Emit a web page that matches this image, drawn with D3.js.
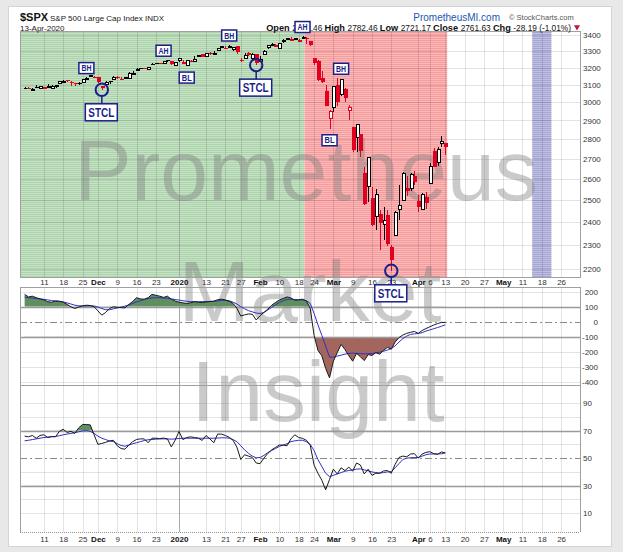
<!DOCTYPE html>
<html>
<head>
<meta charset="utf-8">
<script src="https://cdn.jsdelivr.net/npm/d3@7"></script>
<style>
  body { margin: 0; background: #e8e8e8; }
  svg text { font-family: "Liberation Sans", Arial, sans-serif; }
</style>
</head>
<body>
<svg id="chart" width="623" height="552"></svg>
<script>
// S&P 500 daily bars
var dates = [
  '2019-11-04', '2019-11-05', '2019-11-06', '2019-11-07', '2019-11-08',
  '2019-11-11', '2019-11-12', '2019-11-13', '2019-11-14', '2019-11-15',
  '2019-11-18', '2019-11-19', '2019-11-20', '2019-11-21', '2019-11-22',
  '2019-11-25', '2019-11-26', '2019-11-27', '2019-11-29',
  '2019-12-02', '2019-12-03', '2019-12-04', '2019-12-05', '2019-12-06',
  '2019-12-09', '2019-12-10', '2019-12-11', '2019-12-12', '2019-12-13',
  '2019-12-16', '2019-12-17', '2019-12-18', '2019-12-19', '2019-12-20',
  '2019-12-23', '2019-12-24', '2019-12-26', '2019-12-27',
  '2019-12-30', '2019-12-31', '2020-01-02', '2020-01-03',
  '2020-01-06', '2020-01-07', '2020-01-08', '2020-01-09', '2020-01-10',
  '2020-01-13', '2020-01-14', '2020-01-15', '2020-01-16', '2020-01-17',
  '2020-01-21', '2020-01-22', '2020-01-23', '2020-01-24',
  '2020-01-27', '2020-01-28', '2020-01-29', '2020-01-30', '2020-01-31',
  '2020-02-03', '2020-02-04', '2020-02-05', '2020-02-06', '2020-02-07',
  '2020-02-10', '2020-02-11', '2020-02-12', '2020-02-13', '2020-02-14',
  '2020-02-18', '2020-02-19', '2020-02-20', '2020-02-21',
  '2020-02-24', '2020-02-25', '2020-02-26', '2020-02-27', '2020-02-28',
  '2020-03-02', '2020-03-03', '2020-03-04', '2020-03-05', '2020-03-06',
  '2020-03-09', '2020-03-10', '2020-03-11', '2020-03-12', '2020-03-13',
  '2020-03-16', '2020-03-17', '2020-03-18', '2020-03-19', '2020-03-20',
  '2020-03-23', '2020-03-24', '2020-03-25', '2020-03-26', '2020-03-27',
  '2020-03-30', '2020-03-31', '2020-04-01', '2020-04-02', '2020-04-03',
  '2020-04-06', '2020-04-07', '2020-04-08', '2020-04-09',
  '2020-04-13'
]
var open = [
  3078.96, 3080.80, 3075.10, 3087.02, 3081.25,
  3080.33, 3089.28, 3084.18, 3090.75, 3107.92,
  3117.91, 3127.45, 3114.66, 3108.49, 3111.41,
  3117.44, 3134.85, 3145.49, 3147.18,
  3143.85, 3087.41, 3103.50, 3119.21, 3134.62,
  3141.86, 3135.36, 3135.75, 3141.23, 3166.65,
  3183.63, 3195.40, 3195.21, 3192.32, 3223.33,
  3226.05, 3225.45, 3227.20, 3247.23,
  3240.09, 3215.18, 3244.67, 3226.36,
  3217.55, 3241.86, 3238.59, 3266.03, 3281.81,
  3271.13, 3285.35, 3282.27, 3302.97, 3323.66,
  3321.03, 3330.02, 3315.77, 3333.10,
  3247.16, 3255.35, 3289.46, 3256.45, 3282.33,
  3235.66, 3280.61, 3324.91, 3344.92, 3335.54,
  3318.28, 3365.87, 3370.50, 3365.90, 3378.08,
  3369.04, 3380.39, 3380.45, 3360.50,
  3257.61, 3238.94, 3139.90, 3062.54, 2916.90,
  2974.28, 3096.46, 3045.75, 3075.70, 2954.20,
  2863.89, 2813.48, 2825.60, 2630.86, 2569.99,
  2508.59, 2425.66, 2436.50, 2393.48, 2431.94,
  2290.71, 2344.44, 2457.77, 2501.29, 2555.87,
  2558.98, 2614.69, 2498.08, 2458.54, 2514.92,
  2578.28, 2738.65, 2685.00, 2776.99,
  2782.46
]
var high = [
  3085.20, 3083.95, 3078.34, 3097.77, 3093.09,
  3088.33, 3102.61, 3098.06, 3098.20, 3120.46,
  3124.17, 3127.64, 3118.97, 3110.11, 3112.87,
  3133.83, 3142.69, 3154.26, 3150.30,
  3144.31, 3094.97, 3119.38, 3119.45, 3150.60,
  3148.87, 3142.12, 3143.98, 3176.28, 3182.68,
  3197.71, 3198.22, 3198.48, 3205.48, 3225.65,
  3227.78, 3226.43, 3240.08, 3247.93,
  3240.92, 3231.72, 3258.14, 3246.15,
  3246.84, 3244.91, 3267.07, 3275.58, 3282.99,
  3288.13, 3294.25, 3298.66, 3317.11, 3329.88,
  3329.79, 3337.77, 3326.88, 3333.18,
  3258.85, 3285.78, 3293.47, 3285.91, 3282.33,
  3268.44, 3306.92, 3337.58, 3347.96, 3341.42,
  3352.26, 3375.63, 3381.47, 3385.09, 3380.69,
  3375.01, 3393.52, 3389.15, 3360.76,
  3259.81, 3246.99, 3182.51, 3097.07, 2959.72,
  3090.96, 3136.72, 3130.97, 3083.04, 2985.93,
  2863.89, 2882.59, 2825.60, 2660.95, 2711.33,
  2562.98, 2553.93, 2453.57, 2466.97, 2453.01,
  2300.73, 2449.71, 2571.42, 2637.01, 2615.91,
  2631.80, 2641.39, 2522.75, 2533.22, 2538.18,
  2676.85, 2756.89, 2760.75, 2818.57,
  2782.46
]
var low = [
  3074.87, 3072.15, 3065.89, 3080.23, 3073.58,
  3075.82, 3084.73, 3078.80, 3083.26, 3104.60,
  3112.06, 3113.47, 3091.41, 3094.55, 3099.26,
  3117.44, 3131.00, 3143.41, 3139.34,
  3110.78, 3070.33, 3102.53, 3103.76, 3134.62,
  3135.46, 3126.09, 3133.21, 3138.47, 3156.51,
  3183.63, 3191.03, 3191.14, 3192.32, 3216.03,
  3222.30, 3220.51, 3227.20, 3234.37,
  3216.57, 3212.03, 3235.53, 3222.34,
  3214.64, 3232.43, 3236.67, 3263.67, 3260.86,
  3268.43, 3277.19, 3280.69, 3302.82, 3318.86,
  3316.61, 3320.04, 3301.87, 3281.53,
  3234.50, 3253.22, 3271.89, 3242.80, 3214.68,
  3235.66, 3280.61, 3313.75, 3334.39, 3322.12,
  3317.77, 3352.72, 3369.72, 3360.52, 3366.15,
  3355.61, 3378.83, 3341.02, 3328.45,
  3214.65, 3118.77, 3108.99, 2977.39, 2855.84,
  2945.19, 2976.63, 3034.38, 2999.83, 2901.54,
  2734.43, 2734.00, 2707.22, 2478.86, 2492.37,
  2380.94, 2367.04, 2280.52, 2319.78, 2295.56,
  2191.86, 2344.44, 2407.53, 2500.72, 2520.02,
  2545.28, 2571.15, 2447.49, 2455.79, 2459.96,
  2574.57, 2657.67, 2663.30, 2762.36,
  2721.17
]
var close = [
  3078.27, 3074.62, 3076.78, 3085.18, 3093.08,
  3087.01, 3091.84, 3094.04, 3096.63, 3120.46,
  3122.03, 3120.18, 3108.46, 3103.54, 3110.29,
  3133.64, 3140.52, 3153.63, 3140.98,
  3113.87, 3093.20, 3112.76, 3117.43, 3145.91,
  3135.96, 3132.52, 3141.63, 3168.57, 3168.80,
  3191.45, 3192.52, 3191.14, 3205.37, 3221.22,
  3224.01, 3223.38, 3239.91, 3240.02,
  3221.29, 3230.78, 3257.85, 3234.85,
  3246.28, 3237.18, 3253.05, 3274.70, 3265.35,
  3288.13, 3283.15, 3289.29, 3316.81, 3329.62,
  3320.79, 3321.75, 3325.54, 3295.47,
  3243.63, 3276.24, 3273.40, 3283.66, 3225.52,
  3248.92, 3297.59, 3334.69, 3345.78, 3327.71,
  3352.09, 3357.75, 3379.45, 3373.94, 3380.16,
  3370.29, 3386.15, 3373.23, 3337.75,
  3225.89, 3128.21, 3116.39, 2978.76, 2954.22,
  3090.23, 3003.37, 3130.12, 3023.94, 2972.37,
  2746.56, 2882.23, 2741.38, 2480.64, 2711.02,
  2386.13, 2529.19, 2398.10, 2409.39, 2304.92,
  2237.40, 2447.33, 2475.56, 2630.07, 2541.47,
  2626.65, 2584.59, 2470.50, 2526.90, 2488.65,
  2663.68, 2659.41, 2749.98, 2789.82,
  2761.63
]
var prevClose0 = 3066.91 // close of 2019-11-01, colours the first bar

// empty trading days to the right of the last bar
var futureDates = [
  '2020-04-14', '2020-04-15', '2020-04-16', '2020-04-17',
  '2020-04-20', '2020-04-21', '2020-04-22', '2020-04-23', '2020-04-24',
  '2020-04-27', '2020-04-28', '2020-04-29', '2020-04-30', '2020-05-01',
  '2020-05-04', '2020-05-05', '2020-05-06', '2020-05-07', '2020-05-08',
  '2020-05-11', '2020-05-12', '2020-05-13', '2020-05-14', '2020-05-15',
  '2020-05-18', '2020-05-19', '2020-05-20', '2020-05-21', '2020-05-22',
  '2020-05-26', '2020-05-27', '2020-05-28', '2020-05-29'
]

// middle panel oscillator and its signal line
var osc = [
  182, 165, 170, 160, 152, 145, 133, 130, 138, 136,
  130, 115, 100, 88, 98, 106, 110, 108, 100, 72,
  44, 62, 88, 100, 96, 94, 92, 115, 135, 160,
  152, 150, 160, 182, 176, 170, 162, 170, 150, 138,
  130, 126, 121, 126, 134, 130, 128, 132, 134, 137,
  146, 150, 145, 136, 122, 90, 38, 46, 52, 50,
  12, 40, 62, 84, 110, 128, 145, 155, 165, 158,
  143, 146, 150, 138, 90, -90, -190, -226, -310, -372,
  -262, -205, -150, -185, -225, -262, -210, -232, -258, -218,
  -224, -205, -215, -190, -170, -182, -135, -105, -88, -77,
  -70, -64, -77, -58, -45, -33, -22, -12, -4, -4
]
var oscSignal = [
  163, 160, 157, 155, 152, 149, 145, 141, 138, 136,
  132, 125, 118, 110, 106, 105, 105, 106, 105, 98,
  88, 80, 80, 86, 92, 98, 104, 112, 122, 132,
  140, 148, 154, 158, 160, 160, 158, 156, 152, 148,
  144, 140, 136, 134, 133, 133, 134, 134, 135, 136,
  139, 142, 143, 140, 130, 118, 100, 86, 74, 66,
  58, 55, 62, 78, 96, 112, 128, 140, 148, 150,
  148, 145, 146, 140, 122, 55, -20, -90, -162, -235,
  -235, -228, -222, -215, -210, -208, -210, -212, -213, -212,
  -211, -206, -202, -196, -188, -178, -160, -135, -112, -95,
  -84, -80, -78, -72, -62, -54, -46, -38, -30, -20
]

// bottom panel RSI and its signal line
var rsi = [
  66, 65.5, 66.5, 64.5, 66.5, 67, 65, 65.8, 65.5, 69.5,
  71, 68.7, 69.5, 68, 72, 74.5, 74.5, 74.2, 67, 60,
  60.7, 61.5, 62.5, 63, 59, 57, 56.5, 59.5, 62, 63.6,
  64, 64, 61.2, 64.5, 64.5, 64.2, 64.6, 64, 58.2, 63,
  69.4, 63.5, 65, 65.5, 65, 64.5, 62.9, 66.5, 64, 61.2,
  67.5, 67.5, 66.5, 65.2, 63, 58, 49, 52.5, 51.5, 50.5,
  46.5, 46, 50, 53.4, 56, 57.8, 59.5, 59.5, 59, 64,
  67, 65, 64.4, 63, 59.5, 45, 39, 34, 27, 34.5,
  42, 38.5, 43, 41, 43.5, 40.5, 46.5, 45, 38.5, 42,
  37.5, 39, 39, 40.7, 41, 39, 45.5, 50.5, 51.5, 51,
  53, 53.3, 50, 53, 54.2, 54.7, 53.3, 52.8, 54.5, 53.8
]
var rsiSignal = [
  62.6, 63, 63.5, 64, 64.5, 65, 65.3, 65.5, 65.8, 66.3,
  67, 67.5, 68, 68.5, 69.2, 69.8, 70, 69.5, 68, 66,
  64.5, 63.5, 62.5, 62, 60.5, 59.2, 58.7, 59.5, 60.5, 61.2,
  62, 62.8, 63.4, 63.6, 63.8, 64, 64, 64, 63.8, 64,
  64.3, 64.5, 64.5, 64.5, 64.5, 64.5, 64.5, 64.5, 64.5, 64.5,
  64.6, 64.8, 64.8, 64.5, 63.5, 62, 59, 56, 53.5, 51.5,
  50.3, 50.5, 52, 54, 55.6, 57, 58.5, 59.5, 60.5, 62,
  62.6, 63, 63, 62, 60, 55.5, 49, 44, 39, 36.6,
  37.5, 38.5, 39.5, 40.5, 41, 41.5, 42, 42.2, 41.5, 40.8,
  40, 39.5, 39.2, 39.5, 40, 40.2, 43, 46, 49, 50,
  50.3, 50.5, 50.5, 51.5, 52.5, 53, 53, 53, 53.2, 53.8
]

var priceTicks = [3400, 3300, 3200, 3100, 3000, 2900, 2800, 2700, 2600, 2500, 2400, 2300, 2200]
var oscTicks = [200, 100, 0, -100, -200, -300, -400]
var rsiTicks = [90, 70, 50, 30, 10]

var tickDates = [
  '2019-11-11', '2019-11-18', '2019-11-25', '2019-12-02', '2019-12-09', '2019-12-16', '2019-12-23',
  '2020-01-02', '2020-01-13', '2020-01-21', '2020-01-27', '2020-02-03', '2020-02-10', '2020-02-18',
  '2020-02-24', '2020-03-02', '2020-03-09', '2020-03-16', '2020-03-23', '2020-04-01', '2020-04-06',
  '2020-04-13', '2020-04-20', '2020-04-27', '2020-05-04', '2020-05-11', '2020-05-18', '2020-05-26'
]
var tickLabels = [
  '11', '18', '25', 'Dec', '9', '16', '23',
  '2020', '13', '21', '27', 'Feb', '10', '18',
  '24', 'Mar', '9', '16', '23', 'Apr', '6',
  '13', '20', '27', 'May', '11', '18', '26'
]
var boldLabels = ['Dec', '2020', 'Feb', 'Mar', 'Apr', 'May']

// shaded periods
var zoneFrom = ['2019-11-04', '2020-02-20', '2020-05-14']
var zoneTo = ['2020-02-19', '2020-04-13', '2020-05-20']
var zoneKind = ['up', 'down', 'future']

// chart notes
var noteText = ['BH', 'AH', 'BL', 'BH', 'AH', 'BH', 'BL']
var noteDate = ['2019-11-26', '2019-12-26', '2020-01-06', '2020-01-22', '2020-02-19', '2020-03-04', '2020-02-28']
var notePrice = [3197, 3302, 3141, 3397, 3451, 3193, 2795]
var stclDate = ['2019-12-03', '2020-01-31', '2020-03-23']

// ---- layout
var svg = d3.select('#chart')
var plotL = 20, plotR = 580
var mainTop = 31, mainBot = 277
var oscTop = 287, oscBot = 385
var rsiTop = 385, rsiBot = 532
var navy = '#1b1f8a'

var allDates = dates.concat(futureDates)
var idx = function (d) { return allDates.indexOf(d) }
var num = function (d) { return String(d) } // plain hyphen minus, as on the chart

var x = d3.scaleLinear().domain([-1.2, 143.9]).range([plotL, plotR])
var y = d3.scaleLog().domain([2166.7, 3425.6]).range([mainBot, mainTop])
var yOsc = d3.scaleLinear().domain([-420, 231]).range([oscBot, oscTop])
var yRsi = d3.scaleLinear().domain([-3.7, 103.2]).range([rsiBot, rsiTop])

// card
svg.append('rect').attr('width', 623).attr('height', 552).attr('fill', '#e8e8e8')
svg.append('rect')
  .attr('x', 8.5).attr('y', 6.5).attr('width', 603).attr('height', 540)
  .attr('fill', '#fff').attr('stroke', '#d4d4d4')

// zone patterns
var defs = svg.append('defs')
var zoneStyle = {
  up: ['#c6e3c6', '#add3ad'],
  down: ['#ffb7b7', '#f39e9e'],
  future: ['#c0c0e3', '#a6a6d4']
}
Object.keys(zoneStyle).forEach(function (k) {
  var p = defs.append('pattern').attr('id', 'zone-' + k)
    .attr('patternUnits', 'userSpaceOnUse').attr('width', 4).attr('height', 2)
  p.append('rect').attr('width', 4).attr('height', 2).attr('fill', zoneStyle[k][0])
  p.append('rect').attr('width', 4).attr('height', 1).attr('fill', zoneStyle[k][1])
})

svg.append('g').selectAll('rect')
  .data(zoneKind)
  .join('rect')
  .attr('x', function (d, i) { return zoneFrom[i] === dates[0] ? plotL : x(idx(zoneFrom[i]) - 0.5) })
  .attr('width', function (d, i) {
    var x0 = zoneFrom[i] === dates[0] ? plotL : x(idx(zoneFrom[i]) - 0.5)
    return x(idx(zoneTo[i]) + 0.5) - x0
  })
  .attr('y', mainTop).attr('height', mainBot - mainTop)
  .attr('fill', function (d) { return 'url(#zone-' + d + ')' })

// grid
var grid = svg.append('g').attr('shape-rendering', 'crispEdges')
var panels = [[mainTop, mainBot], [oscTop, oscBot], [rsiTop, rsiBot]]
panels.forEach(function (p) {
  grid.append('g').selectAll('line')
    .data(tickDates)
    .join('line')
    .attr('x1', function (d) { return Math.round(x(idx(d))) + 0.5 })
    .attr('x2', function (d) { return Math.round(x(idx(d))) + 0.5 })
    .attr('y1', p[0]).attr('y2', p[1])
    .attr('stroke', function (d, i) { return tickLabels[i] === '2020' ? '#a8a8a8' : '#000' })
    .attr('stroke-opacity', function (d, i) { return tickLabels[i] === '2020' ? 1 : 0.11 })
})
function hGrid (values, scale) {
  grid.append('g').selectAll('line')
    .data(values)
    .join('line')
    .attr('x1', plotL).attr('x2', plotR)
    .attr('y1', function (d) { return Math.round(scale(d)) + 0.5 })
    .attr('y2', function (d) { return Math.round(scale(d)) + 0.5 })
    .attr('stroke', '#000').attr('stroke-opacity', 0.11)
}
hGrid(priceTicks, y)
hGrid([200, -200, -300, -400], yOsc)
hGrid([90, 80, 60, 40, 20, 10], yRsi)

// watermark
var mark = svg.append('g')
  .attr('fill', '#7a7a7a').attr('fill-opacity', 0.4)
  .attr('font-size', 86).attr('text-anchor', 'middle')
mark.append('text').attr('x', 306).attr('y', 200).text('Prometheus')
mark.append('text').attr('x', 310).attr('y', 321).text('Market')
mark.append('text').attr('x', 318).attr('y', 421).text('Insight')

// level lines of the two lower panels
function level (scale, v, dashed) {
  svg.append('line')
    .attr('x1', plotL).attr('x2', plotR)
    .attr('y1', Math.round(scale(v)) + 0.5).attr('y2', Math.round(scale(v)) + 0.5)
    .attr('stroke', dashed ? '#8a8a8a' : '#9a9a9a')
    .attr('stroke-width', dashed ? 1 : 1.6)
    .attr('stroke-dasharray', dashed ? '7,3,2,3' : null)
}

// threshold fills
var clipId = 0
function fillBeyond (scale, values, lvl, above, color) {
  var id = 'clip' + (clipId++)
  var ly = scale(lvl)
  var r = scale.range()
  defs.append('clipPath').attr('id', id).append('rect')
    .attr('x', plotL).attr('width', plotR - plotL)
    .attr('y', above ? r[1] : ly)
    .attr('height', above ? ly - r[1] : r[0] - ly)
  svg.append('path').datum(values)
    .attr('clip-path', 'url(#' + id + ')')
    .attr('fill', color)
    .attr('d', d3.area()
      .x(function (d, i) { return x(i) })
      .y0(ly)
      .y1(function (d) { return scale(d) }))
}

fillBeyond(yOsc, osc, 100, true, '#5f8e5f')
fillBeyond(yOsc, osc, -100, false, '#a2665f')
fillBeyond(yRsi, rsi, 70, true, '#5f8e5f')
fillBeyond(yRsi, rsi, 30, false, '#a2665f')
level(yOsc, 100); level(yOsc, -100); level(yOsc, 0, true)
level(yRsi, 70); level(yRsi, 30); level(yRsi, 50, true)

function drawLine (scale, values, color) {
  svg.append('path').datum(values)
    .attr('fill', 'none').attr('stroke', color).attr('stroke-width', 1)
    .attr('stroke-linejoin', 'round')
    .attr('d', d3.line()
      .x(function (d, i) { return x(i) })
      .y(function (d) { return scale(d) }))
}
drawLine(yOsc, oscSignal, '#2f2fc8')
drawLine(yOsc, osc, '#1a1a1a')
drawLine(yRsi, rsiSignal, '#2f2fc8')
drawLine(yRsi, rsi, '#1a1a1a')

// candles
var bars = svg.append('g').attr('shape-rendering', 'crispEdges')
var barColor = function (i) {
  var prev = i ? close[i - 1] : prevClose0
  return close[i] >= prev ? '#000' : '#e3001f'
}
var cx = function (i) { return Math.round(x(i)) + 0.5 }
bars.selectAll('line')
  .data(dates)
  .join('line')
  .attr('x1', function (d, i) { return cx(i) })
  .attr('x2', function (d, i) { return cx(i) })
  .attr('y1', function (d, i) { return y(high[i]) })
  .attr('y2', function (d, i) { return Math.max(y(low[i]), y(high[i]) + 1) })
  .attr('stroke', function (d, i) { return barColor(i) })
bars.selectAll('rect')
  .data(dates)
  .join('rect')
  .each(function (d, i) {
    var top = y(Math.max(open[i], close[i]))
    var h = Math.max(y(Math.min(open[i], close[i])) - top, 1)
    var hollow = close[i] > open[i]
    d3.select(this)
      .attr('x', hollow ? cx(i) - 1.5 : cx(i) - 2)
      .attr('width', hollow ? 3 : 4)
      .attr('y', hollow ? Math.round(top) + 0.5 : top)
      .attr('height', hollow ? Math.max(Math.round(h), 1) : h)
      .attr('fill', hollow ? '#fff' : barColor(i))
      .attr('stroke', hollow ? barColor(i) : 'none')
  })

// panel frames
var frames = svg.append('g').attr('fill', 'none').attr('shape-rendering', 'crispEdges')
frames.append('rect').attr('x', plotL + 0.5).attr('y', mainTop + 0.5)
  .attr('width', plotR - plotL).attr('height', mainBot - mainTop).attr('stroke', '#a0a0a0')
frames.append('rect').attr('x', plotL + 0.5).attr('y', oscTop + 0.5)
  .attr('width', plotR - plotL).attr('height', oscBot - oscTop).attr('stroke', '#a0a0a0')
frames.append('line').attr('x1', plotL + 0.5).attr('x2', plotL + 0.5)
  .attr('y1', rsiTop).attr('y2', rsiBot).attr('stroke', '#a0a0a0')
frames.append('line').attr('x1', plotR + 0.5).attr('x2', plotR + 0.5)
  .attr('y1', rsiTop).attr('y2', rsiBot).attr('stroke', '#a0a0a0')
frames.append('line').attr('x1', plotL).attr('x2', plotR)
  .attr('y1', rsiBot + 0.5).attr('y2', rsiBot + 0.5)
  .attr('stroke', '#909090').attr('stroke-dasharray', '1,1')

// axes
function styleAxis (g) {
  g.select('.domain').remove()
  g.attr('font-family', '"Liberation Sans", Arial, sans-serif').attr('font-size', 8)
  g.selectAll('text').attr('fill', '#333')
}
svg.append('g').attr('transform', 'translate(' + plotR + ',0)')
  .call(d3.axisRight(y).tickValues(priceTicks).tickFormat(num).tickSize(0).tickPadding(3))
  .call(styleAxis)
svg.append('g').attr('transform', 'translate(' + plotR + ',0)')
  .call(d3.axisRight(yOsc).tickValues(oscTicks).tickFormat(num).tickSize(0).tickPadding(18))
  .call(styleAxis)
  .selectAll('text').attr('text-anchor', 'end')
svg.append('g').attr('transform', 'translate(' + plotR + ',0)')
  .call(d3.axisRight(yRsi).tickValues(rsiTicks).tickFormat(num).tickSize(0).tickPadding(3))
  .call(styleAxis)

function dateAxis (yPos) {
  svg.append('g').attr('transform', 'translate(0,' + yPos + ')')
    .call(d3.axisBottom(x)
      .tickValues(tickDates.map(idx))
      .tickFormat(function (d, i) { return tickLabels[i] })
      .tickSize(0).tickPadding(2))
    .call(styleAxis)
    .selectAll('text')
    .attr('font-weight', function (d, i) { return boldLabels.indexOf(tickLabels[i]) >= 0 ? 'bold' : 'normal' })
    .attr('fill', function (d, i) { return boldLabels.indexOf(tickLabels[i]) >= 0 ? '#111' : '#333' })
}
dateAxis(mainBot)
dateAxis(rsiBot + 2)

// header
var last = dates.length - 1
var chg = close[last] - close[last - 1]
var f2 = function (v) { return v.toFixed(2) }
svg.append('text').attr('x', 20).attr('y', 21)
  .attr('font-size', 11).attr('font-weight', 'bold').attr('fill', '#111').text('$SPX')
svg.append('text').attr('x', 50).attr('y', 21)
  .attr('font-size', 8).attr('fill', '#222').text('S&P 500 Large Cap Index  INDX')
svg.append('text').attr('x', 20).attr('y', 31)
  .attr('font-size', 8).attr('fill', '#222').text('13-Apr-2020')
svg.append('text').attr('x', 500).attr('y', 21).attr('text-anchor', 'end')
  .attr('font-size', 10).attr('fill', '#2456b0').text('PrometheusMI.com')
svg.append('text').attr('x', 509).attr('y', 20)
  .attr('font-size', 7.5).attr('fill', '#555').text('\u00a9 StockCharts.com')

var quote = [
  ['Open ', true], [f2(open[last]) + ' ', false],
  ['High ', true], [f2(high[last]) + ' ', false],
  ['Low ', true], [f2(low[last]) + ' ', false],
  ['Close ', true], [f2(close[last]) + ' ', false],
  ['Chg ', true], [f2(chg) + ' (' + f2(chg / close[last - 1] * 100) + '%)', false]
]
svg.append('text').attr('x', 571).attr('y', 31).attr('text-anchor', 'end')
  .attr('fill', '#111')
  .selectAll('tspan')
  .data(quote)
  .join('tspan')
  .attr('font-weight', function (d) { return d[1] ? 'bold' : 'normal' })
  .attr('font-size', function (d) { return d[1] ? 9.2 : 8.3 })
  .text(function (d) { return d[0] })
svg.append('path')
  .attr('d', d3.symbol(d3.symbolTriangle, 16))
  .attr('transform', 'translate(577,27) rotate(180)')
  .attr('fill', chg < 0 ? '#d0103a' : '#080')

// notes
var notes = svg.append('g')
notes.selectAll('g.note')
  .data(noteText)
  .join('g')
  .attr('class', 'note')
  .attr('transform', function (d, i) { return 'translate(' + x(idx(noteDate[i])) + ',' + y(notePrice[i]) + ')' })
  .each(function (d) {
    var g = d3.select(this)
    g.append('rect').attr('x', -7.5).attr('y', -5.5).attr('width', 15).attr('height', 11)
      .attr('fill', '#fff').attr('stroke', navy).attr('stroke-width', 1.5)
    g.append('text').attr('y', 3).attr('text-anchor', 'middle')
      .attr('font-size', 9).attr('font-weight', 'bold').attr('fill', navy)
      .attr('textLength', 10).attr('lengthAdjust', 'spacingAndGlyphs').text(d)
  })

notes.selectAll('g.stcl')
  .data(stclDate)
  .join('g')
  .attr('class', 'stcl')
  .attr('transform', function (d) { var i = dates.indexOf(d); return 'translate(' + x(i) + ',' + y(low[i]) + ')' })
  .each(function () {
    var g = d3.select(this)
    g.append('line').attr('y1', 6.5).attr('y2', 14).attr('stroke', navy).attr('stroke-width', 1.5)
    g.append('circle').attr('r', 6.2).attr('fill', 'none').attr('stroke', navy).attr('stroke-width', 2)
    g.append('rect').attr('x', -16.5).attr('y', 14).attr('width', 32).attr('height', 17)
      .attr('fill', '#fff').attr('stroke', navy).attr('stroke-width', 1.5)
    g.append('text').attr('x', -0.5).attr('y', 27).attr('text-anchor', 'middle')
      .attr('font-size', 13).attr('font-weight', 'bold').attr('fill', navy)
      .attr('textLength', 26).attr('lengthAdjust', 'spacingAndGlyphs').text('STCL')
  })
</script>
</body>
</html>
